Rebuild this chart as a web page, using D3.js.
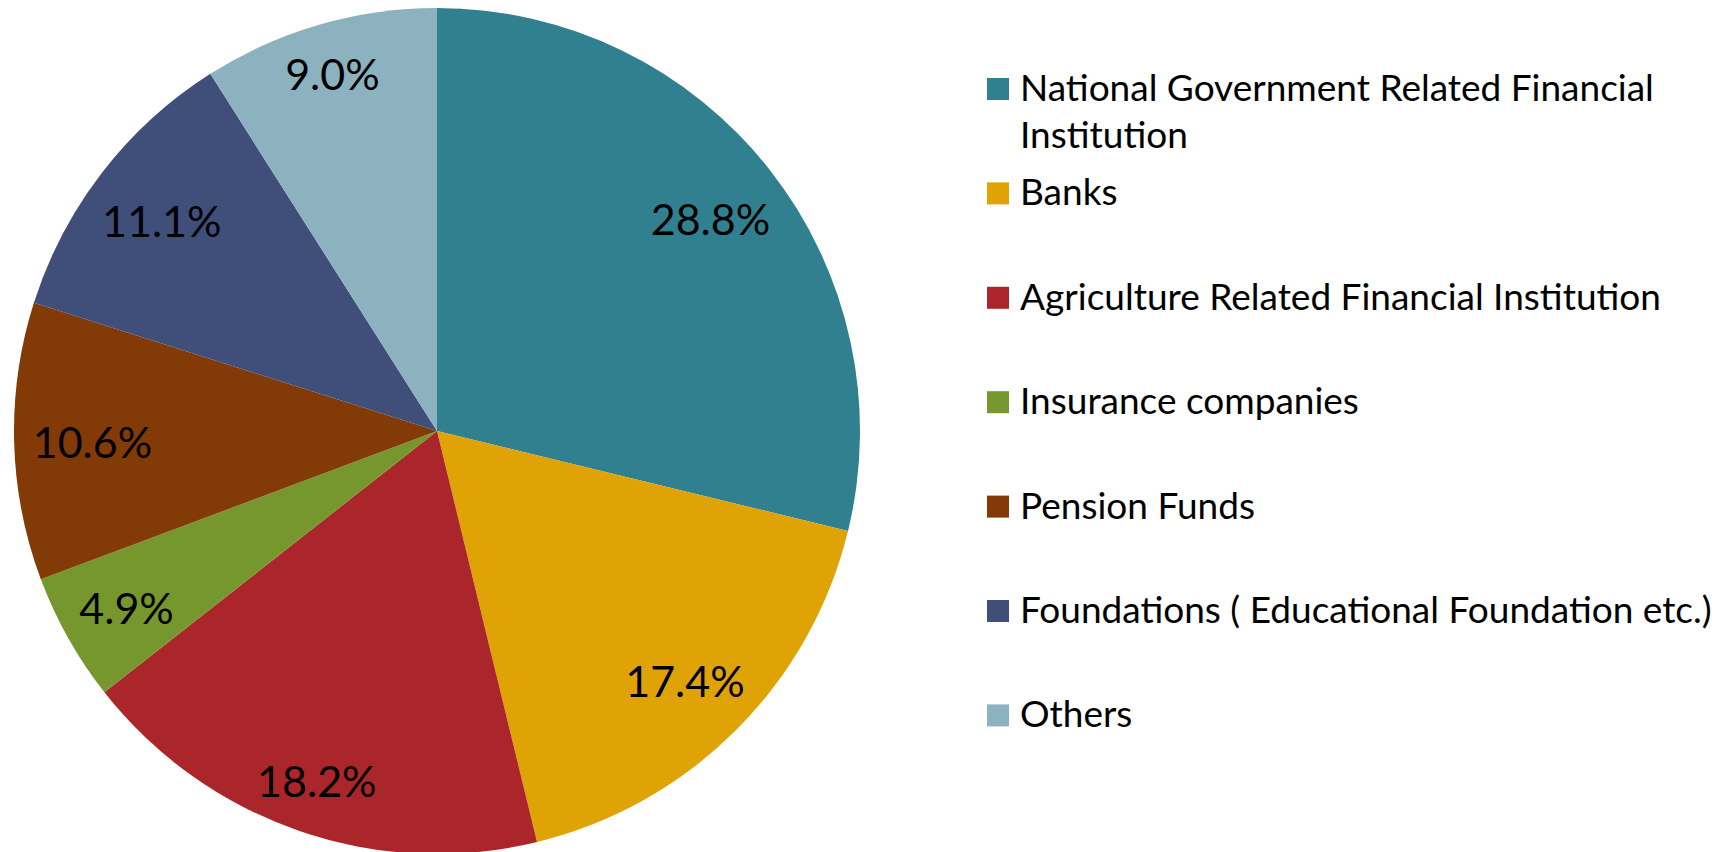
<!DOCTYPE html>
<html>
<head>
    <script type="text/javascript" src="https://cdn.jsdelivr.net/npm/d3@7"></script>
    <style>
        body { margin: 0; background: #fff; }
        text { font-family: Lato, "Open Sans", sans-serif; fill: #000; }
    </style>
</head>
<body>
<div id="chart"></div>
<script type="text/javascript">

    // categories, values (%) and colours, clockwise from 12 o'clock
    var categories = [
        "National Government Related Financial Institution",
        "Banks",
        "Agriculture Related Financial Institution",
        "Insurance companies",
        "Pension Funds",
        "Foundations ( Educational Foundation etc.)",
        "Others"
    ];
    var legendLines = [
        ["National Government Related Financial", "Institution"],
        ["Banks"],
        ["Agriculture Related Financial Institution"],
        ["Insurance companies"],
        ["Pension Funds"],
        ["Foundations ( Educational Foundation etc.)"],
        ["Others"]
    ];
    var shares = [28.8, 17.4, 18.2, 4.9, 10.6, 11.1, 9.0];
    var colors = ["#31808F", "#E0A306", "#AB262A", "#76972E", "#823A07", "#3F4F7A", "#8CB2C0"];

    var width = 1729, height = 852;
    var cx = 437, cy = 431, radius = 423;
    var labelSize = 43;

    var svg = d3.select("#chart")
        .append("svg")
        .attr("width", width)
        .attr("height", height);

    var pie = d3.pie()
        .value(function(d) { return d; })
        .sort(null);

    var arc = d3.arc()
        .innerRadius(0)
        .outerRadius(radius);

    var color = d3.scaleOrdinal()
        .domain(categories)
        .range(colors);

    var g = svg.append("g")
        .attr("transform", "translate(" + cx + "," + cy + ")");

    var slices = g.selectAll("g.slice")
        .data(pie(shares))
        .enter()
        .append("g")
        .attr("class", "slice");

    slices.append("path")
        .attr("d", arc)
        .style("fill", function(d, i) { return color(categories[i]); });

    // "best fit" style: push each label out along its mid angle until the
    // outer corner of its box sits a fixed distance inside the rim
    var cornerDist = radius - 18;

    slices.append("text")
        .attr("text-anchor", "middle")
        .attr("dy", "0.36em")
        .style("font-size", labelSize + "px")
        .text(function(d) { return d3.format(".1f")(d.data) + "%"; })
        .attr("transform", function(d) {
            var a = (d.startAngle + d.endAngle) / 2;
            var ux = Math.sin(a), uy = -Math.cos(a);
            var hw = this.getComputedTextLength() / 2, hh = labelSize * 0.72 / 2;
            var bx = (ux < 0 ? -1 : 1) * hw, by = (uy < 0 ? -1 : 1) * hh;
            // |r*u + b| = cornerDist
            var B = 2 * (ux * bx + uy * by);
            var C = bx * bx + by * by - cornerDist * cornerDist;
            var r = (-B + Math.sqrt(B * B - 4 * C)) / 2;
            return "translate(" + (r * ux) + "," + (r * uy + 3) + ")";
        });

    // legend
    var legendX = 987, firstBaseline = 101, rowStep = 104.4, lineStep = 46.6, box = 22;

    var legend = svg.append("g")
        .selectAll("g")
        .data(categories)
        .enter()
        .append("g")
        .attr("transform", function(d, i) { return "translate(" + legendX + "," + (firstBaseline + i * rowStep) + ")"; });

    legend.append("rect")
        .attr("x", 0)
        .attr("y", -box - 1)
        .attr("width", box)
        .attr("height", box)
        .style("fill", function(d) { return color(d); });

    legend.append("text")
        .attr("x", 33)
        .style("font-size", "37px")
        .selectAll("tspan")
        .data(function(d, i) { return legendLines[i]; })
        .enter()
        .append("tspan")
        .attr("x", 33)
        .attr("y", function(d, j) { return j * lineStep; })
        .text(function(d) { return d; });

</script>
</body>
</html>
